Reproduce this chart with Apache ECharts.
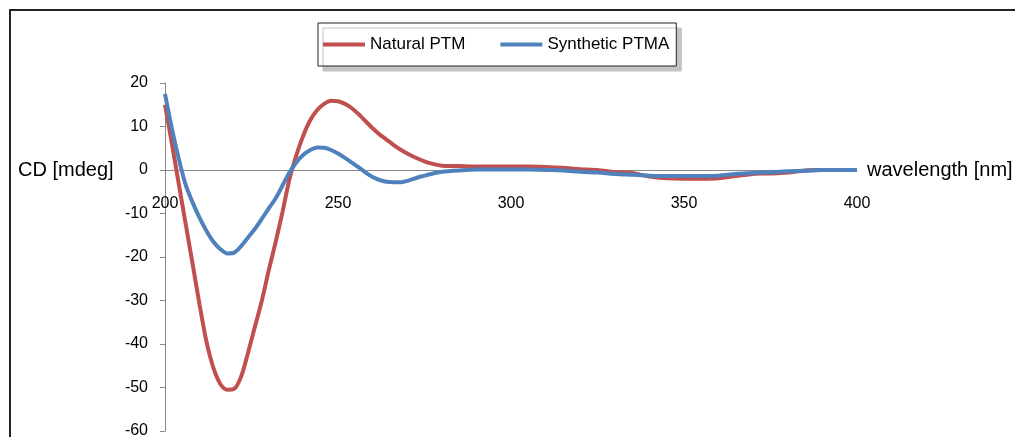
<!DOCTYPE html>
<html>
<head>
<meta charset="utf-8">
<script src="https://cdn.jsdelivr.net/npm/echarts@6/dist/echarts.min.js"></script>
<style>
  html, body { margin: 0; padding: 0; background: #fff; }
  #main { width: 1015px; height: 437px; }
</style>
</head>
<body>
<div id="main"></div>
<script>
// CD spectra, values
var wavelength = [200, 202, 204, 206, 208, 210, 212, 214, 216, 218, 220, 222, 224, 226, 228, 230, 232, 234, 236, 238,
  240, 242, 244, 246, 248, 250, 252, 254, 256, 258, 260, 262, 264, 266, 268, 270, 272, 274, 276, 278, 280,
  285, 290, 295, 300, 305, 310, 315, 320, 325, 330, 335, 340, 345, 350, 355, 360, 365, 370, 375, 380, 385, 390, 395, 400];
var naturalPTM = [15, 6, -3.3, -12.5, -21.7, -31, -39.5, -45.5, -49.2, -50.5, -50.3, -47.5, -42, -36, -30, -23, -16.5, -9.5, -2, 3.5,
  8, 11.5, 13.8, 15.2, 15.9, 15.8, 15.2, 14.2, 12.8, 11.2, 9.6, 8.2, 7.0, 5.8, 4.7, 3.8, 3.0, 2.3, 1.7, 1.3, 1.0,
  0.9, 0.8, 0.8, 0.8, 0.8, 0.7, 0.5, 0.2, 0, -0.5, -0.7, -1.5, -1.9, -2.0, -2.0, -1.9, -1.4, -0.9, -0.8, -0.6, -0.1, 0, 0, 0];
var syntheticPTMA = [17.5, 9.5, 2.5, -3.5, -7.5, -11, -14, -16.5, -18.2, -19.2, -19, -17.5, -15.5, -13.5, -11.2, -8.8, -6.5, -3.5, -0.5, 1.8,
  3.5, 4.6, 5.2, 5.1, 4.6, 3.8, 2.8, 1.7, 0.6, -0.6, -1.6, -2.3, -2.7, -2.8, -2.8, -2.5, -2.0, -1.5, -1.1, -0.7, -0.4,
  -0.1, 0.1, 0.1, 0.1, 0.1, 0, -0.1, -0.4, -0.6, -0.9, -1.1, -1.3, -1.4, -1.4, -1.4, -1.3, -0.9, -0.7, -0.5, -0.3, -0.2, 0, 0, 0];

function pairs(ys) {
  return wavelength.map(function (x, i) { return [x, ys[i]]; });
}

var font = 'Liberation Sans, Arial, sans-serif';
var chart = echarts.init(document.getElementById('main'));

// plot box: y 83 (20) .. 431 (-60), so zero sits at 83 + 348 * 20/80
var gridTop = 83, gridBottom = 431;
var zeroY = gridTop + (gridBottom - gridTop) * 20 / 80;

chart.setOption({
  animation: false,
  grid: { left: 165, right: 158, top: gridTop, bottom: 437 - gridBottom, containLabel: false, outerBoundsMode: 'none' },
  graphic: [
    // outer frame of the chart area
    { type: 'rect', shape: { x: 10, y: 10, width: 1100, height: 500 },
      style: { fill: 'none', stroke: '#222', lineWidth: 2 }, z: 100 },
    { type: 'text', left: 18, top: zeroY - 10,
      style: { text: 'CD [mdeg]', font: '20px ' + font, fill: '#000' } }
  ],
  legend: {
    left: 318, top: 23,
    padding: [13, 7, 13, 5],
    itemGap: 35,
    itemWidth: 42, itemHeight: 4,
    icon: 'rect',
    backgroundColor: '#fff',
    borderColor: '#222', borderWidth: 1,
    shadowColor: '#c4c4c4', shadowBlur: 0, shadowOffsetX: 5, shadowOffsetY: 5,
    textStyle: { fontFamily: font, fontSize: 17, color: '#000' },
    data: ['Natural PTM', 'Synthetic PTMA']
  },
  xAxis: {
    type: 'value',
    min: 200, max: 400, interval: 50,
    position: 'bottom',
    offset: -(gridBottom - zeroY),
    name: 'wavelength [nm]',
    nameLocation: 'end', nameGap: 10,
    nameTextStyle: { fontFamily: font, fontSize: 20, color: '#000' },
    axisLine: { onZero: false, lineStyle: { color: '#888', width: 1 } },
    axisTick: { show: false },
    axisLabel: { margin: 26, fontFamily: font, fontSize: 16, color: '#000' },
    splitLine: { show: false }
  },
  yAxis: {
    type: 'value',
    min: -60, max: 20, interval: 10,
    axisLine: { show: true, lineStyle: { color: '#888', width: 1 } },
    axisTick: { show: true, length: 5, lineStyle: { color: '#888' } },
    axisLabel: { margin: 17, fontFamily: font, fontSize: 16, color: '#000' },
    splitLine: { show: false }
  },
  series: [
    {
      name: 'Natural PTM', type: 'line', smooth: 0.3, showSymbol: false,
      color: '#C0504D', lineStyle: { width: 4 },
      data: pairs(naturalPTM)
    },
    {
      name: 'Synthetic PTMA', type: 'line', smooth: 0.3, showSymbol: false,
      color: '#4F81BD', lineStyle: { width: 4 },
      data: pairs(syntheticPTMA)
    }
  ]
});
</script>
</body>
</html>
